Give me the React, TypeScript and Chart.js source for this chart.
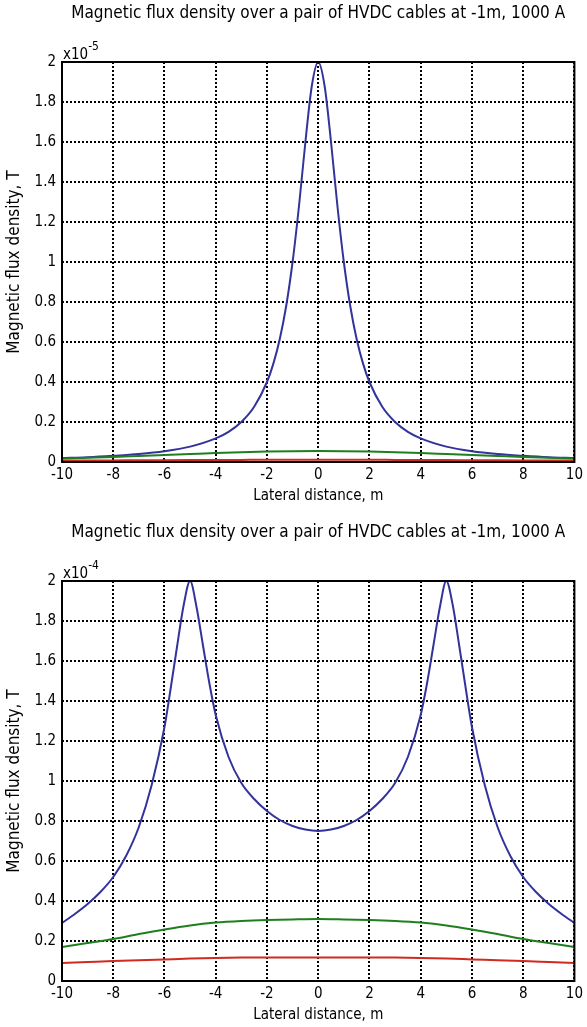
import React, { useEffect, useRef } from "react";
import { Chart, registerables } from "chart.js";

Chart.register(...registerables);

const FONT = "'DejaVu Sans Condensed', 'DejaVu Sans', Verdana, sans-serif";
const TITLE = "Magnetic flux density over a pair of HVDC cables at -1m, 1000 A";
const X_LABEL = "Lateral distance, m";
const Y_LABEL = "Magnetic flux density, T";

const X_MIN = -10;
const X_MAX = 10;
const X_STEP = 2;
const Y_MIN = 0;
const Y_MAX = 2;
const Y_STEP = 0.2;

const BLUE = "#33339c";
const GREEN = "#1f7f1f";
const RED = "#d12a1f";

// ---- Top chart (values in units of 1e-5 T) ----
const TOP_EXP = "-5";
const TOP_BLUE_X = [-10, -9, -8, -7, -6, -5, -4, -3.5, -3, -2.5, -2, -1.75, -1.5, -1.25, -1, -0.75, -0.5, -0.25, 0, 0.25, 0.5, 0.75, 1, 1.25, 1.5, 1.75, 2, 2.5, 3, 3.5, 4, 5, 6, 7, 8, 9, 10];
const TOP_BLUE = [0.02, 0.024, 0.031, 0.04, 0.054, 0.077, 0.118, 0.151, 0.2, 0.276, 0.4, 0.492, 0.615, 0.78, 1.0, 1.28, 1.6, 1.88, 2.0, 1.88, 1.6, 1.28, 1.0, 0.78, 0.615, 0.492, 0.4, 0.276, 0.2, 0.151, 0.118, 0.077, 0.054, 0.04, 0.031, 0.024, 0.02];
const TOP_X = [-10, -9, -8, -7, -6, -5, -4, -3, -2, -1, 0, 1, 2, 3, 4, 5, 6, 7, 8, 9, 10];
const TOP_GREEN = [0.018, 0.021, 0.025, 0.03, 0.035, 0.04, 0.045, 0.049, 0.052, 0.054, 0.055, 0.054, 0.052, 0.049, 0.045, 0.04, 0.035, 0.03, 0.025, 0.021, 0.018];
const TOP_RED = [0.007, 0.0075, 0.008, 0.0085, 0.009, 0.0095, 0.01, 0.0105, 0.011, 0.011, 0.011, 0.011, 0.011, 0.0105, 0.01, 0.0095, 0.009, 0.0085, 0.008, 0.0075, 0.007];

// ---- Bottom chart (values in units of 1e-4 T) ----
const BOT_EXP = "-4";
const BOT_BLUE_X = [-10, -9.5, -9, -8.5, -8, -7.5, -7, -6.5, -6, -5.75, -5.5, -5.25, -5, -4.75, -4.5, -4.25, -4, -3.5, -3, -2.5, -2, -1.5, -1, -0.5, 0, 0.5, 1, 1.5, 2, 2.5, 3, 3.5, 4, 4.25, 4.5, 4.75, 5, 5.25, 5.5, 5.75, 6, 6.5, 7, 7.5, 8, 8.5, 9, 9.5, 10];
const BOT_BLUE = [0.29, 0.335, 0.385, 0.445, 0.52, 0.625, 0.77, 0.98, 1.27, 1.47, 1.68, 1.88, 2.0, 1.87, 1.68, 1.49, 1.33, 1.12, 0.99, 0.91, 0.85, 0.805, 0.775, 0.757, 0.75, 0.757, 0.775, 0.805, 0.85, 0.91, 0.99, 1.12, 1.33, 1.49, 1.68, 1.87, 2.0, 1.88, 1.68, 1.47, 1.27, 0.98, 0.77, 0.625, 0.52, 0.445, 0.385, 0.335, 0.29];
const BOT_X = [-10, -9, -8, -7, -6, -5, -4, -3, -2, -1, 0, 1, 2, 3, 4, 5, 6, 7, 8, 9, 10];
const BOT_GREEN = [0.17, 0.19, 0.21, 0.235, 0.258, 0.278, 0.292, 0.3, 0.305, 0.308, 0.31, 0.308, 0.305, 0.3, 0.292, 0.278, 0.258, 0.235, 0.21, 0.19, 0.17];
const BOT_RED = [0.09, 0.095, 0.1, 0.104, 0.108, 0.112, 0.115, 0.117, 0.118, 0.118, 0.118, 0.118, 0.118, 0.117, 0.115, 0.112, 0.108, 0.104, 0.1, 0.095, 0.09];

const pts = (xs: number[], ys: number[]) => xs.map((x, i) => ({ x, y: ys[i] }));

const framePlugin = {
  id: "frame",
  afterDraw(chart: any, _args: any, o: any) {
    const { ctx, chartArea: a } = chart;
    ctx.save();
    ctx.strokeStyle = "#000";
    ctx.lineWidth = 2;
    ctx.strokeRect(a.left, a.top, a.right - a.left, a.bottom - a.top);
    ctx.fillStyle = "#000";
    ctx.font = `17px ${FONT}`;
    ctx.textAlign = "center";
    ctx.textBaseline = "middle";
    ctx.fillText(o.title, (a.left + a.right) / 2, o.titleY);
    ctx.textAlign = "left";
    ctx.textBaseline = "alphabetic";
    ctx.font = `15px ${FONT}`;
    ctx.fillText("x10", a.left + 1, a.top - 3);
    const w = ctx.measureText("x10").width;
    ctx.font = `12px ${FONT}`;
    ctx.fillText(o.exp, a.left + 1 + w, a.top - 12);
    ctx.restore();
  },
};

function makeConfig(series: { data: { x: number; y: number }[]; color: string }[], exp: string, padTop: number, padBottom: number, titleY: number): any {
  return {
    type: "line",
    data: {
      datasets: series.map((s) => ({
        data: s.data,
        borderColor: s.color,
        borderWidth: 2,
        pointRadius: 0,
        fill: false,
        cubicInterpolationMode: "monotone",
      })),
    },
    options: {
      animation: false,
      responsive: false,
      maintainAspectRatio: false,
      devicePixelRatio: 1,
      layout: { padding: { top: padTop, bottom: padBottom, left: 0, right: 12 } },
      plugins: {
        legend: { display: false },
        tooltip: { enabled: false },
        title: { display: false },
        frame: { title: TITLE, exp, titleY },
      },
      scales: {
        x: {
          type: "linear",
          min: X_MIN,
          max: X_MAX,
          ticks: { stepSize: X_STEP, color: "#000", font: { family: FONT, size: 15 }, padding: 4, maxRotation: 0, autoSkip: false },
          grid: { color: "#000", lineWidth: 2, drawTicks: false },
          border: { display: false, dash: [2, 2] },
          title: { display: true, text: X_LABEL, color: "#000", font: { family: FONT, size: 15 }, padding: { top: 0, bottom: 1 } },
          afterFit: (s: any) => { s.height = 44; },
        },
        y: {
          type: "linear",
          min: Y_MIN,
          max: Y_MAX,
          ticks: {
            stepSize: Y_STEP,
            color: "#000",
            font: { family: FONT, size: 15 },
            padding: 6,
            autoSkip: false,
            callback: (v: number) => String(Math.round(v * 10) / 10),
          },
          grid: { color: "#000", lineWidth: 2, drawTicks: false },
          border: { display: false, dash: [2, 2] },
          title: { display: true, text: Y_LABEL, color: "#000", font: { family: FONT, size: 17 }, padding: { top: 4, bottom: 0 } },
          afterFit: (s: any) => { s.width = 62; },
        },
      },
    },
    plugins: [framePlugin],
  };
}

function ChartCanvas({ config, width, height }: { config: any; width: number; height: number }) {
  const ref = useRef<HTMLCanvasElement | null>(null);
  useEffect(() => {
    if (!ref.current) return;
    const chart = new Chart(ref.current, config);
    return () => chart.destroy();
  }, [config]);
  return <canvas ref={ref} width={width} height={height} style={{ display: "block", width, height }} />;
}

const topConfig = makeConfig(
  [
    { data: pts(TOP_X, TOP_RED), color: RED },
    { data: pts(TOP_X, TOP_GREEN), color: GREEN },
    { data: pts(TOP_BLUE_X, TOP_BLUE), color: BLUE },
  ],
  TOP_EXP,
  62,
  7,
  14
);

const bottomConfig = makeConfig(
  [
    { data: pts(BOT_X, BOT_RED), color: RED },
    { data: pts(BOT_X, BOT_GREEN), color: GREEN },
    { data: pts(BOT_BLUE_X, BOT_BLUE), color: BLUE },
  ],
  BOT_EXP,
  68,
  2,
  20
);

export default function App() {
  return (
    <div style={{ position: "absolute", left: 0, top: 0, width: 587, height: 1027, background: "#fff" }}>
      <ChartCanvas config={topConfig} width={587} height={513} />
      <ChartCanvas config={bottomConfig} width={587} height={514} />
    </div>
  );
}
